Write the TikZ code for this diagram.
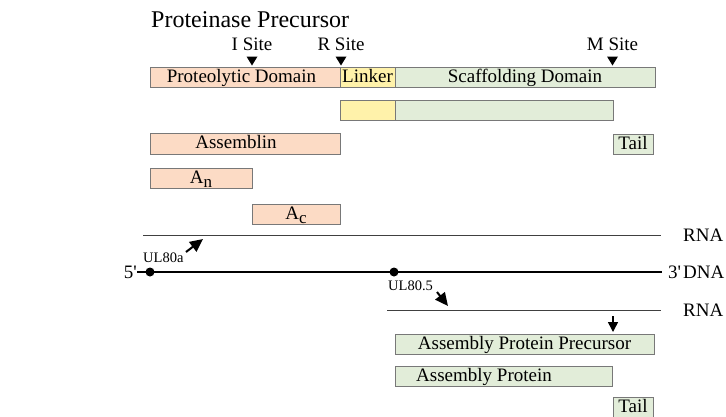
\documentclass[tikz,border=0pt]{standalone}
\usepackage{fontspec}
\setmainfont{Liberation Serif}
\usetikzlibrary{arrows.meta, calc}
\definecolor{peach}{RGB}{252,219,197}
\definecolor{lemon}{RGB}{255,242,170}
\definecolor{sage}{RGB}{226,237,217}
\definecolor{edge}{RGB}{120,120,120}
\newcommand{\SiteMark}[3]{
	\node[anchor=base] (#1) at (#2,50) {#3};
	\fill ($(#2,56.5)+(-5.5,0)$) -- ++(11,0) -- ++(-5.5,9) -- cycle;
}
\newcommand{\Sub}[1]{\raisebox{-4pt}{\fontsize{17}{19}\selectfont #1}}

\begin{document}
\begin{tikzpicture}[x=1pt, y=-1pt,
	every node/.style={font=\fontsize{19}{22}\selectfont, inner sep=0pt},
	seg/.style={draw=edge, line width=1pt, minimum height=20.5pt, text height=13.5pt, text depth=4pt, anchor=north west, outer sep=0pt},
	tag/.style={font=\fontsize{14.5}{16}\selectfont},
	rna/.style={line width=0.8pt, draw=black!75},
	gene/.style={line width=2pt, -{Triangle[length=13pt, width=12pt]}}]

	\useasboundingbox (0,0) rectangle (726,416);

	\node[anchor=base west, font=\fontsize{24}{28}\selectfont] (title) at (151,27) {Proteinase Precursor};

	\SiteMark{isite}{252}{I Site}
	\SiteMark{rsite}{341}{R Site}
	\SiteMark{msite}{612.5}{M Site}

	% precursor and its pieces
	\node[seg, fill=peach, minimum width=190pt] (proteo) at (150,67) {};
	\node[anchor=base] (proteotxt) at ($(proteo.center)+(-3.5,5)$) {Proteolytic Domain};
	\node[seg, fill=lemon, minimum width=55pt] (linker) at (340,67) {Linker};
	\node[seg, fill=sage, minimum width=260pt] (scaff) at (395,67) {Scaffolding Domain};

	\node[seg, fill=lemon, minimum width=55pt] (linkerB) at (340,100) {};
	\node[seg, fill=sage, minimum width=218pt] (scaffB) at (395,100) {};

	\node[seg, fill=peach, minimum width=190pt] (asm) at (150,133.5) {};
	\node[anchor=base] (asmtxt) at ($(asm.center)+(-9,5)$) {Assemblin};
	\node[seg, fill=sage, minimum width=40pt] (tailA) at (613,134) {Tail};

	\node[seg, fill=peach, minimum width=102pt] (an) at (150,168) {A\Sub{n}};
	\node[seg, fill=peach, minimum width=88pt] (ac) at (252,204) {A\Sub{c}};

	% RNA / DNA
	\coordinate (rnaAs) at (143,235);
	\coordinate (rnaAe) at (661,235);
	\draw[rna] (rnaAs) -- (rnaAe);
	\node[anchor=west] (rnaA) at (683,235) {RNA};

	\node[anchor=east] (five) at (137,272) {5\textquotesingle};
	\node[anchor=west] (three) at (668,272) {3\textquotesingle};
	\node[anchor=west] (dna) at (683,272) {DNA};
	\draw[line width=2pt] (five.east) -- ([xshift=-6pt]three.west);

	\coordinate (ul80a) at (150,272);
	\coordinate (ul805) at (394,272);
	\fill (ul80a) circle (4.5pt);
	\fill (ul805) circle (4.5pt);
	\node[tag, anchor=base west] (ul80atxt) at (143,262) {UL80a};
	\node[tag, anchor=base west] (ul805txt) at (388,290) {UL80.5};

	\coordinate (arrAs) at (186,252);
	\coordinate (arrAe) at (203,239);
	\draw[gene] (arrAs) -- (arrAe);
	\coordinate (arrBs) at (437,292);
	\coordinate (arrBe) at (448,306);
	\draw[gene] (arrBs) -- (arrBe);

	\coordinate (rnaBs) at (387,310);
	\coordinate (rnaBe) at (661,310);
	\draw[rna] (rnaBs) -- (rnaBe);
	\node[anchor=west] (rnaB) at (683,310) {RNA};

	\coordinate (cutS) at (613,316);
	\coordinate (cutE) at (613,332);
	\draw[line width=1.5pt, -{Triangle[length=10pt, width=10pt]}] (cutS) -- (cutE);

	% assembly protein products
	\node[seg, fill=sage, minimum width=259pt] (app) at (395,334) {Assembly Protein Precursor};
	\node[seg, fill=sage, minimum width=217pt] (ap) at (395,366) {};
	\node[anchor=base west] (aptxt) at ($(ap.west)+(21,5)$) {Assembly Protein};
	\node[seg, fill=sage, minimum width=40pt] (tailB) at (613,397) {Tail};

\end{tikzpicture}
\end{document}
